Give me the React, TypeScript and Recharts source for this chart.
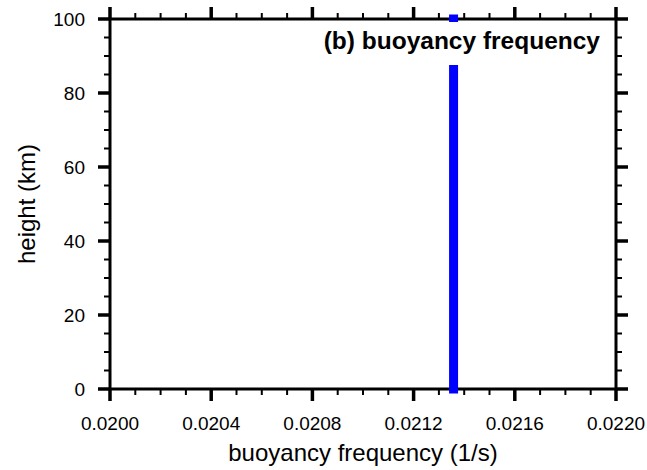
import { LineChart, Line, XAxis, YAxis } from 'recharts'

// tick values (minor every 0.0001 / 5 km, labelled majors)
const xTicks = [
  0.0200, 0.0201, 0.0202, 0.0203, 0.0204, 0.0205, 0.0206, 0.0207, 0.0208, 0.0209,
  0.0210, 0.0211, 0.0212, 0.0213, 0.0214, 0.0215, 0.0216, 0.0217, 0.0218, 0.0219, 0.0220,
]
const xMajor = [0.0200, 0.0204, 0.0208, 0.0212, 0.0216, 0.0220]
const yTicks = [0, 5, 10, 15, 20, 25, 30, 35, 40, 45, 50, 55, 60, 65, 70, 75, 80, 85, 90, 95, 100]
const yMajor = [0, 20, 40, 60, 80, 100]

// profile: constant buoyancy frequency over the column
const heights = [0, 100]
const buoyancy = [0.021358, 0.021358]

const data = heights.map((h, i) => ({ freq: buoyancy[i], height: h }))

const FONT = '"Liberation Sans", Arial, Helvetica, sans-serif'
const MAJOR = 12
const MINOR = 6

const near = (list: number[], v: number) => list.some(m => Math.abs(m - v) < 1e-9)

function BottomTick({ x, y, payload }: any) {
  const major = near(xMajor, payload.value)
  return (
    <g>
      <line x1={x} x2={x} y1={y} y2={y + (major ? MAJOR : MINOR)} stroke="#000" strokeWidth={major ? 3.5 : 2} />
      {major && (
        <text x={x} y={y + 41} textAnchor="middle" fontSize={19} fontFamily={FONT} fill="#000">
          {payload.value.toFixed(4)}
        </text>
      )}
    </g>
  )
}

function TopTick({ x, y, payload }: any) {
  const major = near(xMajor, payload.value)
  return <line x1={x} x2={x} y1={y} y2={y - (major ? MAJOR : MINOR)} stroke="#000" strokeWidth={major ? 3.5 : 2} />
}

function LeftTick({ x, y, payload }: any) {
  const major = near(yMajor, payload.value)
  return (
    <g>
      <line x1={x} x2={x - (major ? MAJOR : MINOR)} y1={y} y2={y} stroke="#000" strokeWidth={major ? 3.5 : 2} />
      {major && (
        <text x={x - 25} y={y + 7} textAnchor="end" fontSize={19} fontFamily={FONT} fill="#000">
          {payload.value}
        </text>
      )}
    </g>
  )
}

function RightTick({ x, y, payload }: any) {
  const major = near(yMajor, payload.value)
  return <line x1={x} x2={x + (major ? MAJOR : MINOR)} y1={y} y2={y} stroke="#000" strokeWidth={major ? 3.5 : 2} />
}

function YTitle({ viewBox }: any) {
  const cx = viewBox.x + 35
  const cy = viewBox.y + viewBox.height / 2
  return (
    <text x={cx} y={cy} transform={`rotate(-90 ${cx} ${cy})`} textAnchor="middle" fontSize={24} fontFamily={FONT} fill="#000">
      height (km)
    </text>
  )
}

function XTitle({ viewBox }: any) {
  const cx = viewBox.x + viewBox.width / 2
  return (
    <text x={cx} y={viewBox.y + 72} textAnchor="middle" fontSize={24} fontFamily={FONT} fill="#000">
      buoyancy frequency (1/s)
    </text>
  )
}

const axisLine = { stroke: '#000', strokeWidth: 3 }

export default function App() {
  return (
    <div style={{ position: 'absolute', left: 0, top: 0, width: 647, height: 470, background: '#fff', fontFamily: FONT }}>
      <LineChart width={647} height={470} data={data} margin={{ top: 0, right: 0, bottom: 0, left: 0 }}>
        <XAxis
          xAxisId="bottom"
          type="number"
          dataKey="freq"
          domain={[0.02, 0.022]}
          ticks={xTicks}
          interval={0}
          allowDataOverflow
          height={81}
          tickSize={0}
          tickMargin={0}
          tickLine={false}
          axisLine={axisLine}
          tick={BottomTick}
          label={XTitle}
        />
        <XAxis
          xAxisId="top"
          orientation="top"
          type="number"
          dataKey="freq"
          domain={[0.02, 0.022]}
          ticks={xTicks}
          interval={0}
          allowDataOverflow
          height={19}
          tickSize={0}
          tickMargin={0}
          tickLine={false}
          axisLine={axisLine}
          tick={TopTick}
        />
        <YAxis
          yAxisId="left"
          type="number"
          dataKey="height"
          domain={[0, 100]}
          ticks={yTicks}
          interval={0}
          width={110}
          tickSize={0}
          tickMargin={0}
          tickLine={false}
          axisLine={axisLine}
          tick={LeftTick}
          label={YTitle}
        />
        <YAxis
          yAxisId="right"
          orientation="right"
          type="number"
          dataKey="height"
          domain={[0, 100]}
          ticks={yTicks}
          interval={0}
          width={31}
          tickSize={0}
          tickMargin={0}
          tickLine={false}
          axisLine={axisLine}
          tick={RightTick}
        />
        <Line
          xAxisId="bottom"
          yAxisId="left"
          dataKey="height"
          stroke="#0000ff"
          strokeWidth={9}
          strokeLinecap="square"
          dot={false}
          activeDot={false}
          isAnimationActive={false}
          zIndex={600}
        />
      </LineChart>
      <svg width={647} height={470} style={{ position: 'absolute', left: 0, top: 0, pointerEvents: 'none' }}>
        <rect x={316} y={22} width={292} height={43} fill="#fff" />
        <text x={600} y={49} textAnchor="end" fontSize={24.5} fontWeight="bold" fontFamily={FONT} fill="#000">
          (b) buoyancy frequency
        </text>
      </svg>
    </div>
  )
}
